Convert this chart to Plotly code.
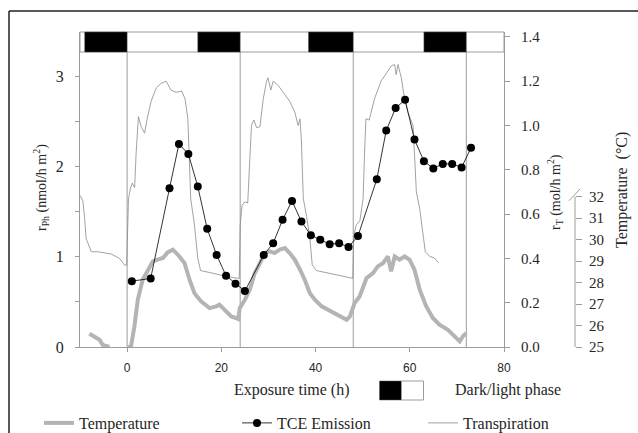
import plotly.graph_objects as go

# ---------------- data ----------------
# TCE emission (left axis, nmol/h m2)
tce_hours = [1, 5, 9, 11, 13, 15, 17, 19, 21, 23, 25, 29, 31, 33, 35, 37, 39, 41, 43, 45, 47, 49,
             53, 55, 57, 59, 61, 63, 65, 67, 69, 71, 73]
tce_emission = [0.73, 0.76, 1.76, 2.25, 2.14, 1.78, 1.31, 1.02, 0.79, 0.70, 0.62, 1.02, 1.15, 1.41,
                1.62, 1.39, 1.24, 1.19, 1.14, 1.15, 1.11, 1.23, 1.86, 2.40, 2.65, 2.74, 2.30, 2.06,
                1.98, 2.03, 2.03, 1.99, 2.21]

# Transpiration (right axis, mol/h m2)
trans_hours = [-10, -9.4, -9.05, -8.7, -7.6, -6.2, -3.4, -1.6, -0.55, -0.1, 0.3, 0.7, 1.1, 1.6, 1.9,
               2.4, 3.0, 3.7, 4.25, 5.1, 6.2, 7.2, 8.3, 9.3, 10.4, 11.6, 12.3, 12.9, 13.5, 14.3, 15.0,
               15.6, 17.8, 20.7, 23.5, 23.8, 24.0, 24.4, 25.0, 25.6, 26.05, 26.4, 26.9, 27.5, 28.2,
               28.9, 29.6, 29.9, 30.5, 31.0, 32.1, 33.5, 34.5, 35.6, 36.3, 36.7, 37.0, 37.4, 38.1,
               38.8, 39.3, 40.2, 43.4, 47.6, 47.9, 48.1, 48.6, 49.4, 50.1, 50.4, 50.7, 51.4, 52.5,
               53.9, 55.3, 56.1, 56.8, 57.1, 57.5, 58.2, 58.9, 59.6, 60.7, 61.4, 62.1, 62.8, 63.3,
               64.2, 65.3, 66.1]
transpiration = [0.685, 0.66, 0.59, 0.49, 0.43, 0.43, 0.42, 0.40, 0.37, 0.37, 0.67, 0.715, 0.74, 0.72,
                 0.87, 1.04, 0.995, 0.965, 1.03, 1.11, 1.17, 1.19, 1.20, 1.16, 1.15, 1.155, 1.12, 1.03,
                 0.67, 0.55, 0.40, 0.345, 0.335, 0.32, 0.31, 0.31, 0.55, 0.64, 0.655, 0.65, 0.85, 1.00,
                 1.025, 0.99, 0.995, 1.12, 1.20, 1.215, 1.16, 1.20, 1.18, 1.14, 1.11, 1.06, 1.00, 1.03,
                 0.93, 0.67, 0.59, 0.49, 0.37, 0.345, 0.33, 0.31, 0.31, 0.50, 0.55, 0.57, 0.67, 0.88,
                 1.03, 1.025, 1.12, 1.20, 1.245, 1.27, 1.275, 1.23, 1.275, 1.215, 1.12, 1.06, 1.00,
                 0.70, 0.625, 0.52, 0.43, 0.41, 0.40, 0.38]

# Temperature (°C); None marks the gap in the record
temp_hours = [-8.0, -6.9, -5.85, -5.2, -4.45, -3.75, None,
              0.15, 0.85, 1.55, 2.27, 3.3, 4.4, 5.45, 6.5, 7.6, 8.6, 9.7, 10.8, 12.2, 13.25, 14.3,
              15.7, 17.5, 18.9, 19.6, 20.7, 22.1, 23.1, 23.6, 23.9, 25.0, 26.05, 27.1, 28.2, 29.2,
              30.3, 31.3, 32.4, 33.5, 34.5, 35.6, 36.7, 37.7, 38.8, 39.85, 41.3, 42.7, 44.1, 45.5,
              46.6, 47.3, 48.3, 49.35, 50.1, 50.8, 52.2, 53.2, 54.3, 55.35, 56.05, 56.8, 57.8, 58.9,
              59.95, 61.0, 62.1, 63.5, 64.9, 66.3, 68.1, 69.5, 70.6, 71.3, 72.0]
temperature = [25.62, 25.49, 25.34, 25.1, 25.06, 25.0, None,
               25.0, 25.06, 25.96, 27.2, 28.13, 28.6, 28.98, 29.06, 29.14, 29.4, 29.53, 29.29, 28.9,
               28.13, 27.5, 27.12, 26.81, 26.89, 26.97, 26.73, 26.42, 26.35, 26.3, 26.81, 27.2, 27.67,
               28.44, 28.9, 29.37, 29.45, 29.37, 29.53, 29.6, 29.37, 29.06, 28.6, 28.13, 27.5, 27.2,
               26.89, 26.73, 26.55, 26.42, 26.27, 26.42, 27.05, 27.35, 27.82, 28.2, 28.44, 28.75,
               28.9, 29.21, 28.52, 29.21, 29.06, 29.21, 29.06, 28.6, 27.67, 26.89, 26.35, 26.04,
               25.8, 25.5, 25.26, 25.5, 25.65]

# Dark phases (h) and phase boundaries
dark_start = [-9, 15, 38.5, 63]
dark_end = [0, 24, 48, 72]
phase_lines = [0, 24, 48, 72]

x_ticks = [0, 20, 40, 60, 80]
temp_ticks = [25, 26, 27, 28, 29, 30, 31, 32]

# ---------------- layout helpers ----------------
W, H = 638, 433
L, R, T, B = 80, 20, 32, 86
PW = W - L - R
PH = H - T - B


def px(x):
    return (x - L) / PW


def py(y):
    return (H - B - y) / PH


AX = '#9c9c9c'
TXT = '#262626'
SERIF = 'Liberation Serif, Times New Roman, serif'
SANS = 'Liberation Sans, Arial, sans-serif'

fig = go.Figure()

fig.add_trace(go.Scatter(x=temp_hours, y=temperature, yaxis='y', mode='lines',
                         line=dict(color='#b4b4b4', width=4), name='Temperature',
                         legendrank=1, legendwidth=153, connectgaps=False))
fig.add_trace(go.Scatter(x=trans_hours, y=transpiration, yaxis='y2', mode='lines',
                         line=dict(color='#8a8a8a', width=0.8), name='Transpiration',
                         legendrank=3, legendwidth=100))
fig.add_trace(go.Scatter(x=tce_hours, y=tce_emission, yaxis='y3', mode='lines+markers',
                         line=dict(color='black', width=0.8),
                         marker=dict(size=8, color='black'), name='TCE Emission',
                         legendrank=2, legendwidth=141))

xdom = [0, (504 - L) / PW]

fig.update_layout(
    width=W, height=H,
    margin=dict(l=L, r=R, t=T, b=B, autoexpand=False),
    paper_bgcolor='white', plot_bgcolor='rgba(0,0,0,0)',
    xaxis=dict(domain=xdom, range=[-10, 80], tickvals=x_ticks, showgrid=False, zeroline=False,
               showline=True, linecolor=AX, linewidth=1, ticks='outside', ticklen=4,
               tickcolor=AX, tickfont=dict(family=SANS, size=12, color=TXT),
               ticklabelstandoff=6, anchor='y3'),
    # temperature axis (free, drawn first)
    yaxis=dict(range=[25, 25 + PH / 21.5], anchor='free', position=px(575), side='right',
               tickvals=temp_ticks, showgrid=False, zeroline=False, showline=False,
               ticks='outside', ticklen=6, tickcolor=AX,
               tickfont=dict(family=SERIF, size=15, color=TXT), ticklabelstandoff=4),
    # transpiration axis (right)
    yaxis2=dict(range=[0, PH / 221.5], overlaying='y', anchor='x', side='right',
                tickmode='linear', tick0=0, dtick=0.2, tickformat='.1f', showgrid=False,
                zeroline=False, showline=True, linecolor=AX, linewidth=1, ticks='outside',
                ticklen=5, tickcolor=AX, tickfont=dict(family=SERIF, size=15, color=TXT),
                ticklabelstandoff=8),
    # TCE emission axis (left)
    yaxis3=dict(range=[0, PH / 90.2], overlaying='y', anchor='x', side='left',
                tickmode='linear', tick0=0, dtick=1, showgrid=False, zeroline=False,
                showline=True, linecolor=AX, linewidth=1, ticks='outside', ticklen=4,
                tickcolor=AX, tickfont=dict(family=SERIF, size=16, color=TXT),
                ticklabelstandoff=8,
                minor=dict(ticks='outside', ticklen=4, tickcolor=AX, dtick=0.5)),
    legend=dict(orientation='h', x=px(39), xanchor='left', y=py(423), yanchor='middle',
                font=dict(family=SERIF, size=16, color=TXT), entrywidthmode='pixels',
                bgcolor='rgba(0,0,0,0)', traceorder='normal'),
    showlegend=True,
)

shapes = []
bar_bottom = py(52)
# phase boundary lines
for h in phase_lines:
    shapes.append(dict(type='line', xref='x', yref='paper', x0=h, x1=h, y0=0, y1=bar_bottom,
                       line=dict(color=AX, width=1), layer='below'))
# light/dark bar
shapes.append(dict(type='rect', xref='x', yref='paper', x0=-10, x1=80, y0=bar_bottom, y1=1,
                   fillcolor='white', line=dict(color=AX, width=1)))
for s, e in zip(dark_start, dark_end):
    shapes.append(dict(type='rect', xref='x', yref='paper', x0=s, x1=e, y0=bar_bottom, y1=1,
                       fillcolor='black', line=dict(color='#555', width=0.5)))
# temperature axis line and break mark
shapes.append(dict(type='line', xref='paper', yref='y', x0=px(575), x1=px(575), y0=25, y1=32,
                   line=dict(color=AX, width=1)))
shapes.append(dict(type='line', xref='paper', yref='y', x0=px(569), x1=px(580), y0=31.8, y1=32.35,
                   line=dict(color=AX, width=1)))
# dark/light legend key
shapes.append(dict(type='rect', xref='paper', yref='paper', x0=px(379.5), x1=px(401.5),
                   y0=py(400), y1=py(381), fillcolor='black', line=dict(color='#555', width=0.5)))
shapes.append(dict(type='rect', xref='paper', yref='paper', x0=px(401.5), x1=px(423.5),
                   y0=py(400), y1=py(381), fillcolor='white', line=dict(color=AX, width=1)))
# outer frame
shapes.append(dict(type='line', xref='paper', yref='paper', x0=px(9), x1=px(640), y0=py(11),
                   y1=py(11), line=dict(color='#222', width=1.5)))
shapes.append(dict(type='line', xref='paper', yref='paper', x0=px(9), x1=px(9), y0=py(11),
                   y1=py(440), line=dict(color='#222', width=1.5)))
fig.update_layout(shapes=shapes)

ann = [
    dict(text='r<sub>Ph</sub> (nmol/h m<sup>2</sup>)', x=px(41), y=py(188), textangle=-90,
         font=dict(family=SERIF, size=14, color=TXT)),
    dict(text='r<sub>T</sub> (mol/h m<sup>2</sup>)', x=px(555), y=py(192), textangle=-90,
         font=dict(family=SERIF, size=14, color=TXT)),
    dict(text='Temperature\u00a0\u00a0(°C)', x=px(622), y=py(190), textangle=-90,
         font=dict(family=SERIF, size=16, color=TXT)),
    dict(text='Exposure time (h)', x=px(292), y=py(390),
         font=dict(family=SERIF, size=16, color=TXT)),
    dict(text='Dark/light phase', x=px(453), y=py(390), xanchor='left',
         font=dict(family=SERIF, size=16, color=TXT)),
]
for a in ann:
    a.update(xref='paper', yref='paper', showarrow=False)
    a.setdefault('xanchor', 'center')
    a.setdefault('yanchor', 'middle')
fig.update_layout(annotations=ann)

fig.write_html('out.html', config={'displayModeBar': False},
               post_script="document.body.style.margin='0';document.body.style.padding='0';")
